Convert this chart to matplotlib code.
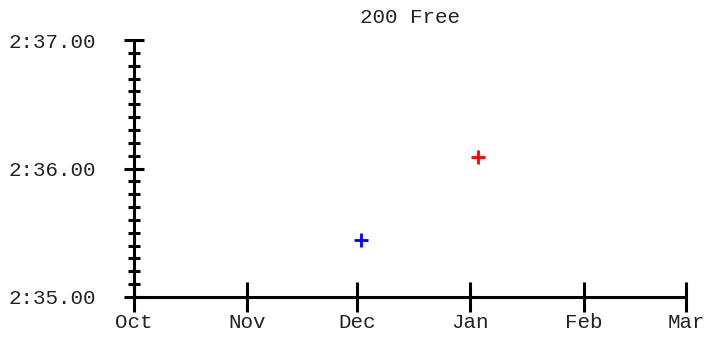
import datetime as dt
import matplotlib
matplotlib.use("Agg")
import matplotlib.pyplot as plt
from matplotlib.ticker import FuncFormatter, MultipleLocator

# swim times (seconds) for the 200 Free
dates = [dt.date(2022, 12, 2), dt.date(2023, 1, 3)]
times = [155.44, 156.09]
colors = ["blue", "red"]

months = [dt.date(2022, 10, 1), dt.date(2022, 11, 1), dt.date(2022, 12, 1),
          dt.date(2023, 1, 1), dt.date(2023, 2, 1), dt.date(2023, 3, 1)]
month_labels = ["Oct", "Nov", "Dec", "Jan", "Feb", "Mar"]

plt.rcParams["font.family"] = ["Liberation Mono", "DejaVu Sans Mono"]
txt_color = "#222222"

fig = plt.figure(figsize=(7.06, 3.37), dpi=100)
ax = fig.add_axes([134 / 706, 1 - 297 / 337, (686 - 134) / 706, (297 - 40) / 337])

for d, t, c in zip(dates, times, colors):
    ax.plot([d], [t], marker="+", color=c, markersize=10, mew=2, linestyle="none")

ax.set_xlim(months[0], months[-1])
ax.set_ylim(155, 157)
ax.set_xticks(months)
ax.set_xticklabels(month_labels)

def fmt_time(v, pos):
    m = int(v // 60)
    s = v - m * 60
    return f"{m}:{s:05.2f}"

ax.yaxis.set_major_locator(MultipleLocator(1))
ax.yaxis.set_minor_locator(MultipleLocator(0.1))
ax.yaxis.set_major_formatter(FuncFormatter(fmt_time))

for s in ["top", "right"]:
    ax.spines[s].set_visible(False)
for s in ["left", "bottom"]:
    ax.spines[s].set_linewidth(2.2)
    ax.spines[s].set_capstyle("butt")

ax.tick_params(axis="x", which="major", direction="inout", length=21, width=2.2,
               labelsize=15, pad=1, labelcolor=txt_color)
ax.tick_params(axis="y", which="major", direction="inout", length=14, width=2.2,
               labelsize=15, pad=20, labelcolor=txt_color)
ax.tick_params(axis="y", which="minor", direction="inout", length=9, width=2.2)

ax.set_title("200 Free", fontsize=15, pad=12, color=txt_color)

fig.savefig("out.png", dpi=100)
